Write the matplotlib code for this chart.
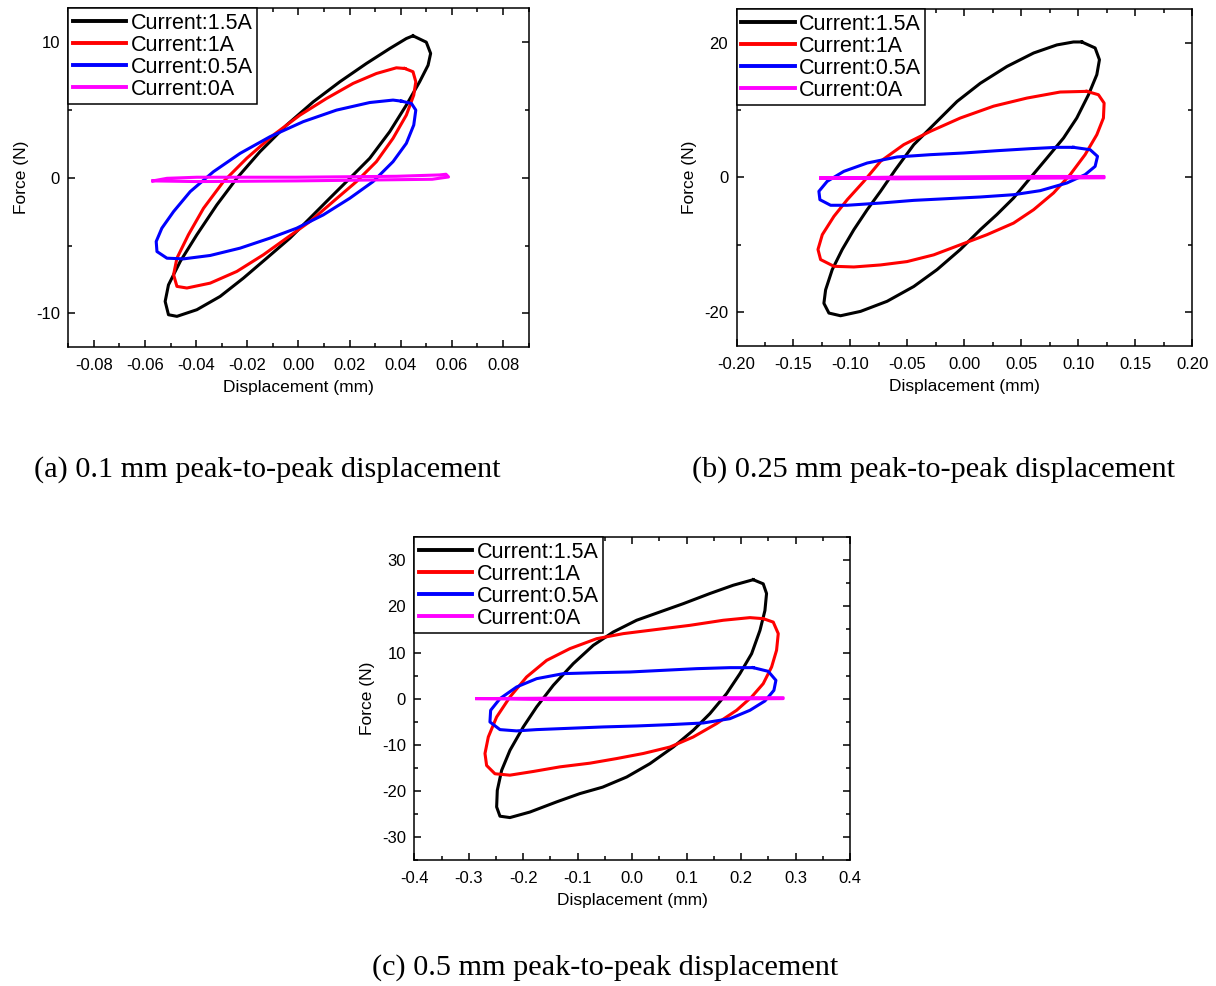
import numpy as np
import matplotlib
matplotlib.use("Agg")
import matplotlib.pyplot as plt
from matplotlib.ticker import MultipleLocator, FormatStrFormatter

plt.rcParams['font.family'] = ['Liberation Sans', 'DejaVu Sans']
plt.rcParams['axes.unicode_minus'] = False

labels = ['Current:1.5A', 'Current:1A', 'Current:0.5A', 'Current:0A']
colors = ['black', 'red', 'blue', 'magenta']

# ---- (a) 0.1 mm loops (displacement mm, force N)
a_15_x = [0.0448, 0.05, 0.0517, 0.0507, 0.0474, 0.0422, 0.0357, 0.0279, 0.0201, 0.0123, 0.0045, -0.0033,
          -0.0124, -0.0215, -0.0306, -0.0397, -0.0475, -0.0508, -0.0521, -0.0508, -0.0462, -0.0397, -0.0319,
          -0.0241, -0.015, -0.0046, 0.0058, 0.0162, 0.0266, 0.0357, 0.0422, 0.0448]
a_15_y = [10.47, 10.0, 9.17, 8.3, 7.08, 5.36, 3.4, 1.44, -0.04, -1.5, -2.98, -4.45,
          -5.93, -7.4, -8.75, -9.73, -10.22, -10.1, -9.12, -7.9, -6.17, -4.2, -2.0,
          -0.04, 1.93, 3.89, 5.6, 7.08, 8.43, 9.53, 10.27, 10.47]
a_1_x = [0.0416, 0.0448, 0.0459, 0.0451, 0.0422, 0.037, 0.0305, 0.0227, 0.0136, 0.0045, -0.0046, -0.0137,
         -0.0241, -0.0345, -0.0436, -0.0475, -0.0488, -0.0475, -0.043, -0.0371, -0.0293, -0.0202, -0.0098,
         0.0006, 0.011, 0.0214, 0.0305, 0.0383, 0.0416]
a_1_y = [8.06, 7.82, 7.08, 6.1, 4.62, 2.91, 1.19, -0.28, -1.75, -3.23, -4.45, -5.68,
         -6.91, -7.77, -8.13, -8.01, -7.15, -5.93, -4.2, -2.25, -0.28, 1.44, 3.15,
         4.62, 5.85, 6.96, 7.69, 8.11, 8.06]
a_05_x = [0.0403, 0.0442, 0.0459, 0.0451, 0.0422, 0.037, 0.0292, 0.0201, 0.0097, -0.0007, -0.0111, -0.0228,
          -0.0345, -0.0449, -0.0514, -0.0553, -0.0556, -0.0534, -0.0488, -0.0423, -0.0332, -0.0228, -0.0111,
          0.0019, 0.0149, 0.0279, 0.037, 0.0403]
a_05_y = [5.65, 5.48, 4.99, 3.89, 2.54, 1.19, -0.28, -1.51, -2.74, -3.72, -4.45, -5.19,
          -5.73, -5.98, -5.93, -5.44, -4.7, -3.72, -2.49, -1.02, 0.45, 1.8, 3.03,
          4.14, 4.99, 5.55, 5.73, 5.65]
a_0_x = [-0.0569, -0.0514, -0.0397, -0.0007, 0.0383, 0.0552, 0.0577, 0.0587, 0.0523, -0.0007, -0.0397, -0.0569]
a_0_y = [-0.23, -0.04, 0.04, 0.04, 0.11, 0.21, 0.26, 0.06, -0.11, -0.23, -0.28, -0.23]

# ---- (b) 0.25 mm loops
b_15_x = [0.1031, 0.1148, 0.1186, 0.1163, 0.109, 0.0987, 0.0871, 0.0725, 0.0578, 0.0432, 0.0286, 0.014,
          -0.0035, -0.024, -0.0444, -0.0678, -0.0911, -0.1087, -0.1189, -0.1233, -0.1218, -0.116, -0.1072,
          -0.097, -0.0853, -0.0736, -0.0605, -0.0444, -0.0269, -0.0064, 0.014, 0.0374, 0.0608, 0.0812,
          0.0958, 0.1031]
b_15_y = [20.14, 19.25, 17.5, 15.28, 12.3, 8.84, 5.87, 2.89, -0.08, -3.05, -5.5, -7.76,
          -10.7, -13.7, -16.2, -18.4, -19.9, -20.55, -20.15, -18.7, -16.7, -13.7, -10.7,
          -7.76, -4.79, -2.06, 1.16, 4.88, 7.85, 11.3, 14.0, 16.5, 18.5, 19.7,
          20.14, 20.14]
b_1_x = [0.1075, 0.1177, 0.1227, 0.1221, 0.1163, 0.106, 0.0929, 0.0783, 0.0608, 0.0432, 0.0199, -0.0035,
         -0.0269, -0.0503, -0.0736, -0.097, -0.1145, -0.1262, -0.1285, -0.1247, -0.1145, -0.1028, -0.0882,
         -0.0736, -0.0532, -0.0298, -0.0035, 0.0257, 0.0549, 0.0841, 0.1075]
b_1_y = [12.8, 12.3, 11.06, 8.84, 6.36, 3.39, 0.42, -2.3, -4.79, -6.78, -8.5, -10.0,
         -11.5, -12.5, -13.0, -13.3, -13.2, -12.2, -10.7, -8.5, -5.78, -3.3, -0.57,
         2.4, 4.88, 6.86, 8.84, 10.6, 11.8, 12.7, 12.8]
b_05_x = [0.0958, 0.1104, 0.1169, 0.1148, 0.106, 0.09, 0.0666, 0.0432, 0.014, -0.0152, -0.0444, -0.0736,
          -0.1028, -0.1174, -0.1268, -0.1277, -0.1204, -0.1058, -0.0853, -0.059, -0.0298, -0.0006, 0.0286,
          0.0578, 0.0812, 0.0958]
b_05_y = [4.48, 4.13, 3.14, 1.65, 0.42, -0.82, -1.96, -2.56, -2.9, -3.15, -3.4, -3.8,
          -4.13, -4.13, -3.3, -2.06, -0.57, 0.91, 2.15, 3.05, 3.39, 3.64, 3.98,
          4.28, 4.48, 4.48]
b_0_x = [-0.1262, -0.06, 0.0, 0.06, 0.1227, 0.1227, 0.06, 0.0, -0.06, -0.1262]
b_0_y = [-0.08, 0.05, 0.1, 0.15, 0.15, -0.05, -0.1, -0.15, -0.2, -0.08]

# ---- (c) 0.5 mm loops
c_15_x = [0.2223, 0.2407, 0.2468, 0.2438, 0.2347, 0.2194, 0.1979, 0.1734, 0.1428, 0.1122, 0.0755, 0.0327,
          -0.01, -0.0542, -0.096, -0.1387, -0.1877, -0.2244, -0.2427, -0.2488, -0.2476, -0.2396, -0.2243,
          -0.1999, -0.1754, -0.1448, -0.1081, -0.0714, -0.0347, 0.0082, 0.051, 0.0939, 0.1428, 0.1857, 0.2223]
c_15_y = [25.8, 24.9, 22.8, 19.1, 14.8, 9.75, 5.42, 1.08, -3.25, -6.87, -10.5, -14.1,
          -17.0, -19.2, -20.6, -22.4, -24.6, -25.8, -25.5, -23.5, -19.9, -15.55, -11.2,
          -6.15, -1.8, 2.89, 7.59, 11.56, 14.45, 17.0, 18.8, 20.6, 22.8, 24.6, 25.8]
c_1_x = [0.2407, 0.2591, 0.2683, 0.2652, 0.2561, 0.2407, 0.2193, 0.1918, 0.155, 0.1122, 0.0694, 0.0204,
         -0.0285, -0.0775, -0.1326, -0.1816, -0.2244, -0.2519, -0.2672, -0.2702, -0.2641, -0.2488, -0.2244,
         -0.1938, -0.157, -0.1142, -0.0652, -0.0163, 0.0449, 0.1061, 0.1673, 0.2163, 0.2407]
c_1_y = [17.35, 16.6, 14.1, 10.5, 6.87, 3.25, 0.35, -2.53, -5.42, -8.32, -10.5, -11.9,
         -13.0, -14.0, -14.8, -15.8, -16.6, -16.3, -14.5, -11.9, -8.32, -3.98, 0.35,
         4.7, 8.3, 10.85, 13.0, 14.1, 15.0, 15.9, 17.0, 17.57, 17.35]
c_05_x = [0.2223, 0.2499, 0.264, 0.2603, 0.2438, 0.2163, 0.1796, 0.1306, 0.0694, 0.0082, -0.053, -0.1142,
          -0.1754, -0.2121, -0.2427, -0.2611, -0.2598, -0.2427, -0.2121, -0.1754, -0.1264, -0.0652, -0.004,
          0.0572, 0.1184, 0.1796, 0.2223]
c_05_y = [6.72, 5.92, 3.97, 1.8, -0.51, -2.53, -4.35, -5.28, -5.64, -5.93, -6.14, -6.43,
          -6.72, -7.0, -6.72, -5.06, -2.53, 0.0, 2.53, 4.33, 5.42, 5.63, 5.78,
          6.14, 6.5, 6.72, 6.72]
c_0_x = [-0.2855, -0.15, 0.0, 0.15, 0.2774, 0.2774, 0.15, 0.0, -0.15, -0.2855]
c_0_y = [0.0, 0.1, 0.15, 0.2, 0.2, 0.0, -0.1, -0.15, -0.2, 0.0]

panels = [
    dict(rect=[0.0561, 0.6478, 0.3786, 0.3438],
         curves=[(a_15_x, a_15_y), (a_1_x, a_1_y), (a_05_x, a_05_y), (a_0_x, a_0_y)],
         xlim=(-0.09, 0.09), ylim=(-12.5, 12.5), xmaj=0.02, ymaj=10, xfmt='%.2f',
         caption='(a) 0.1 mm peak-to-peak displacement', cap_xy=(267 / 1216, 1 - 470 / 986)),
    dict(rect=[0.6057, 0.6494, 0.3747, 0.3412],
         curves=[(b_15_x, b_15_y), (b_1_x, b_1_y), (b_05_x, b_05_y), (b_0_x, b_0_y)],
         xlim=(-0.2, 0.2), ylim=(-25, 25), xmaj=0.05, ymaj=20, xfmt='%.2f',
         caption='(b) 0.25 mm peak-to-peak displacement', cap_xy=(934 / 1216, 1 - 470 / 986)),
    dict(rect=[0.3407, 0.1278, 0.3583, 0.3273],
         curves=[(c_15_x, c_15_y), (c_1_x, c_1_y), (c_05_x, c_05_y), (c_0_x, c_0_y)],
         xlim=(-0.4, 0.4), ylim=(-35, 35), xmaj=0.1, ymaj=10, xfmt='%.1f',
         caption='(c) 0.5 mm peak-to-peak displacement', cap_xy=(605 / 1216, 1 - 968 / 986)),
]

fig = plt.figure(figsize=(12.16, 9.86), dpi=100)

for p in panels:
    ax = fig.add_axes(p['rect'])
    for (x, y), lab, col in zip(p['curves'], labels, colors):
        ax.plot(x, y, color=col, lw=2.2, label=lab, solid_joinstyle='round')
    ax.set_xlim(*p['xlim'])
    ax.set_ylim(*p['ylim'])
    ax.xaxis.set_major_locator(MultipleLocator(p['xmaj']))
    ax.xaxis.set_minor_locator(MultipleLocator(p['xmaj'] / 2))
    ax.yaxis.set_major_locator(MultipleLocator(p['ymaj']))
    ax.yaxis.set_minor_locator(MultipleLocator(p['ymaj'] / 2))
    ax.xaxis.set_major_formatter(FormatStrFormatter(p['xfmt']))
    ax.tick_params(which='both', direction='in', top=True, right=True, labelsize=12, width=1.1)
    ax.tick_params(which='major', length=5, pad=6)
    ax.tick_params(axis='x', which='major', pad=8)
    ax.tick_params(which='minor', length=3)
    for s in ax.spines.values():
        s.set_linewidth(1.1)
    ax.set_xlabel('Displacement (mm)', fontsize=12.5, labelpad=5)
    ax.set_ylabel('Force (N)', fontsize=12.5, labelpad=5)
    leg = ax.legend(loc='upper left', fontsize=15.5, borderaxespad=0, handlelength=2.5,
                    handletextpad=0.2, labelspacing=0.05, borderpad=0.2, fancybox=False,
                    framealpha=1, edgecolor='black')
    leg.get_frame().set_linewidth(1.1)
    for h in leg.get_lines():
        h.set_linewidth(2.8)
    fig.text(p['cap_xy'][0], p['cap_xy'][1], p['caption'], ha='center', va='center',
             fontsize=21.8, family='Liberation Serif')

fig.savefig('out.png', dpi=100)
